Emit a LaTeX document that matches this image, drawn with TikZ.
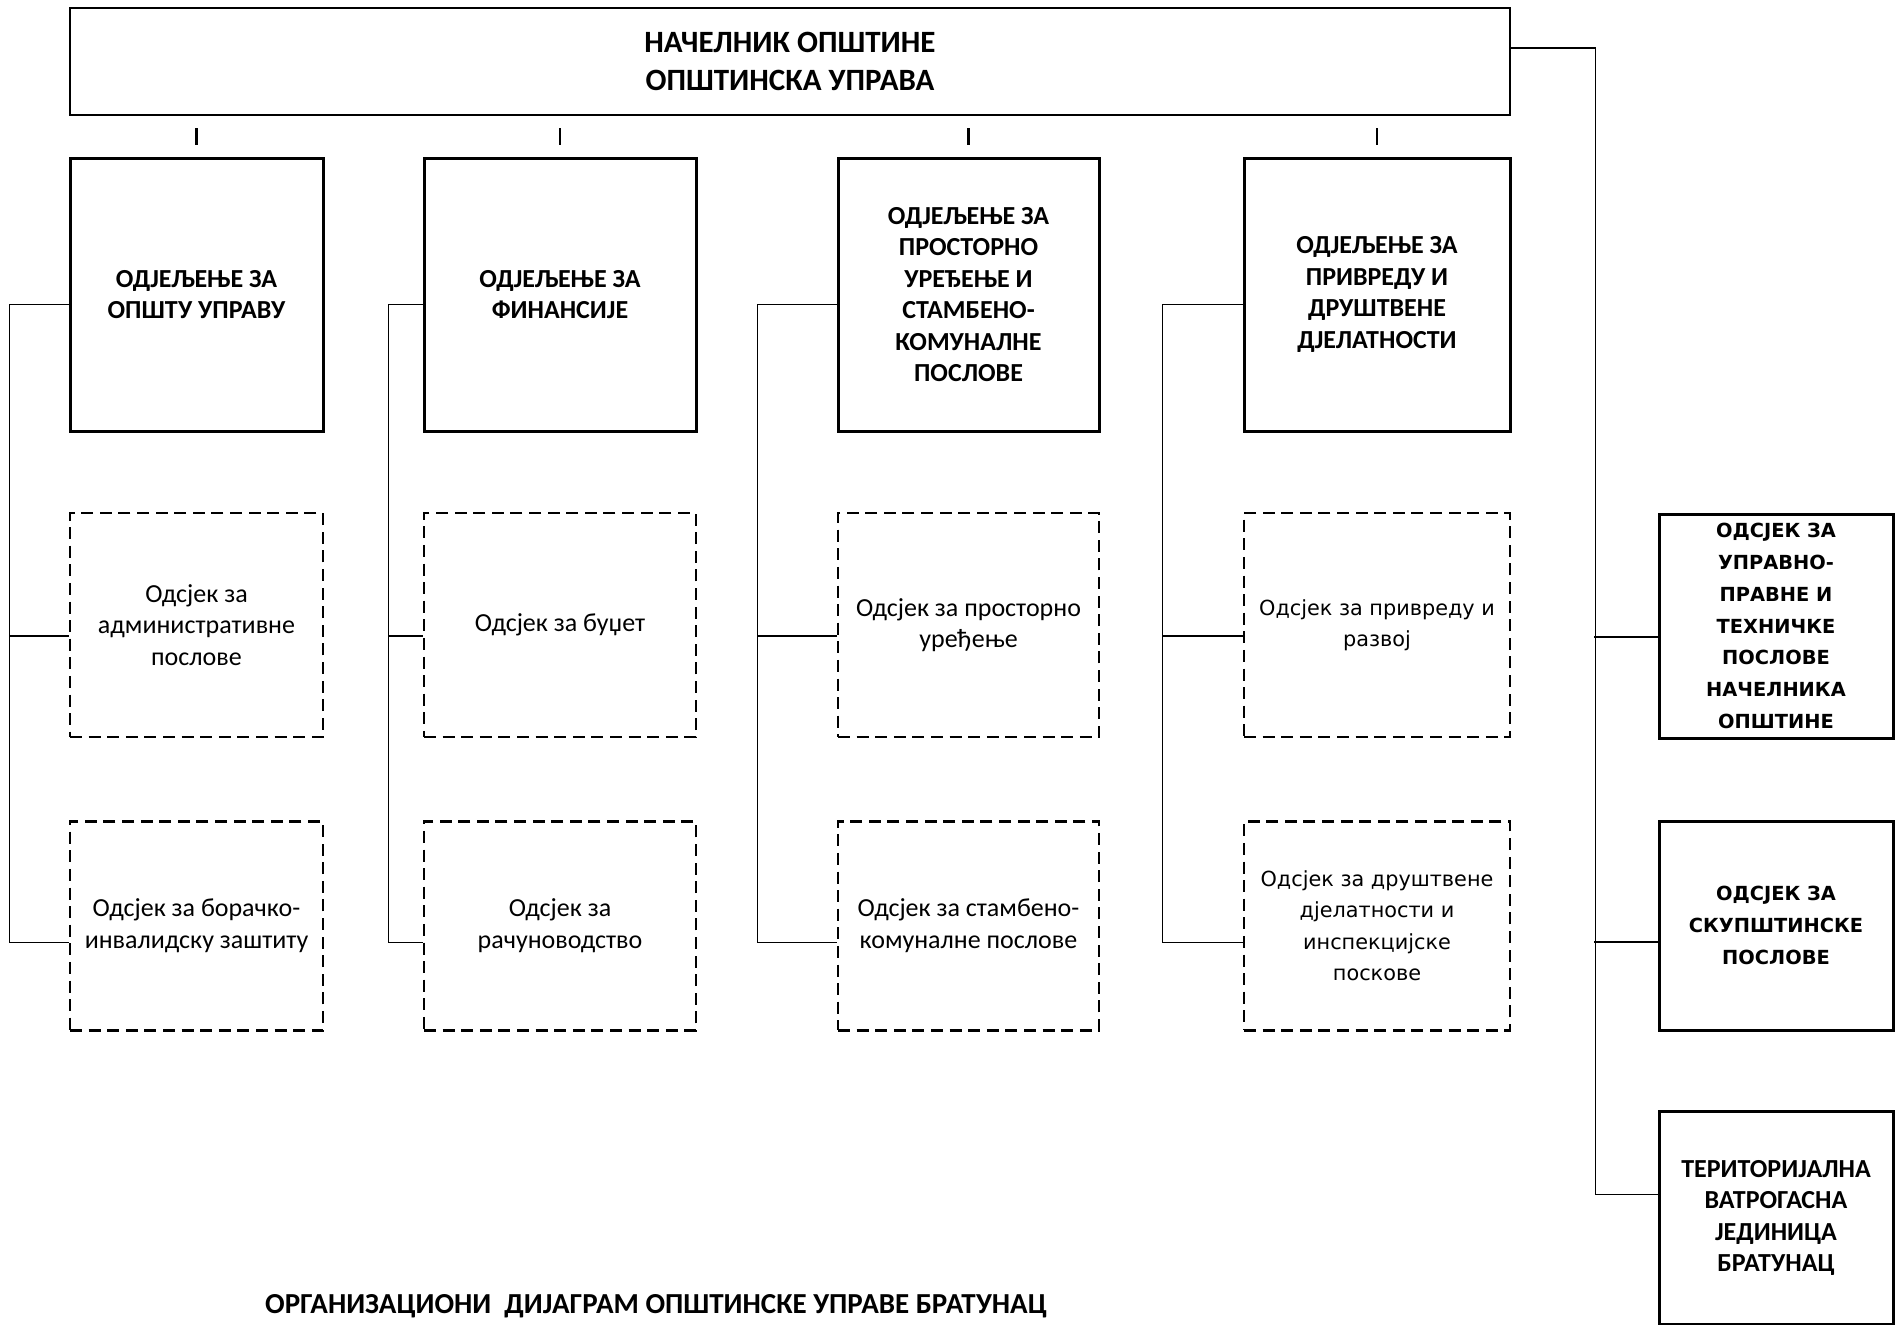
\documentclass[tikz,border=0pt]{standalone}
\usepackage{fontspec}
\setmainfont{Carlito}
\newfontfamily\dejavu{DejaVu Sans}
\usetikzlibrary{positioning}

\begin{document}
\begin{tikzpicture}[x=0.5pt, y=-0.5pt, node distance=39.7pt,
  every node/.style={font=\fontsize{13}{15.7}\selectfont, align=center, inner sep=1pt},
  head/.style={draw, line width=0.7pt, minimum width=720pt, minimum height=53.5pt, font=\fontsize{15.5}{18.7}\selectfont\bfseries},
  dept/.style={draw, line width=1.5pt, minimum height=136.5pt, font=\fontsize{13}{15.7}\selectfont\bfseries},
  sect/.style={draw, line width=1.2pt, dash pattern=on 6pt off 3.3pt, minimum height=112pt},
  side/.style={draw, line width=1.5pt, minimum width=117pt, minimum height=104.5pt, font=\dejavu\fontsize{9.7}{15.9}\selectfont\bfseries},
  link/.style={line width=0.75pt}]
  \useasboundingbox (0,0) rectangle (1895,1324);

  \node[head] (top) at (790,61.5) {НАЧЕЛНИК ОПШТИНЕ\\ОПШТИНСКА УПРАВА};

  % odjeljenja
  \node[dept, minimum width=126.5pt] (d1) at (196.5,294.5) {ОДЈЕЉЕЊЕ ЗА\\ОПШТУ УПРАВУ};
  \node[dept, minimum width=136pt] (d2) at (560,294.5) {ОДЈЕЉЕЊЕ ЗА\\ФИНАНСИЈЕ};
  \node[dept, minimum width=130.5pt] (d3) at (968.5,294.5) {ОДЈЕЉЕЊЕ ЗА\\ПРОСТОРНО\\УРЕЂЕЊЕ И\\СТАМБЕНО-\\КОМУНАЛНЕ\\ПОСЛОВЕ};
  \node[dept, minimum width=133pt] (d4) at (1377,294.5) {ОДЈЕЉЕЊЕ ЗА\\ПРИВРЕДУ И\\ДРУШТВЕНЕ\\ДЈЕЛАТНОСТИ};

  % odsjeci
  \node[sect, minimum width=126.5pt, below=of d1] (s11) {Одсјек за\\административне\\послове};
  \node[sect, minimum width=126.5pt, minimum height=104.5pt, below=40.9pt of s11] (s12) {Одсјек за борачко-\\инвалидску заштиту};
  \node[sect, minimum width=136pt, below=of d2] (s21) {Одсјек за буџет};
  \node[sect, minimum width=136pt, minimum height=104.5pt, below=40.9pt of s21] (s22) {Одсјек за\\рачуноводство};
  \node[sect, minimum width=130.5pt, below=of d3] (s31) {Одсјек за просторно\\уређење};
  \node[sect, minimum width=130.5pt, minimum height=104.5pt, below=40.9pt of s31] (s32) {Одсјек за стамбено-\\комуналне послове};
  \node[sect, minimum width=133pt, below=of d4, font=\dejavu\fontsize{10.4}{15.7}\selectfont] (s41) {Одсјек за привреду и\\развој};
  \node[sect, minimum width=133pt, minimum height=104.5pt, below=40.9pt of s41, font=\dejavu\fontsize{10.4}{15.7}\selectfont] (s42) {Одсјек за друштвене\\дјелатности и\\инспекцијске\\поскове};

  % desna kolona
  \node[side, minimum height=112pt] (ta) at (1776,626) {ОДСЈЕК ЗА\\УПРАВНО-\\ПРАВНЕ И\\ТЕХНИЧКЕ\\ПОСЛОВЕ\\НАЧЕЛНИКА\\ОПШТИНЕ};
  \node[side, below=40pt of ta] (tb) {ОДСЈЕК ЗА\\СКУПШТИНСКЕ\\ПОСЛОВЕ};
  \node[side, below=39.3pt of tb, minimum height=106.5pt, font=\fontsize{13}{15.7}\selectfont\bfseries] (tc) {ТЕРИТОРИЈАЛНА\\ВАТРОГАСНА\\ЈЕДИНИЦА\\БРАТУНАЦ};

  \node[font=\fontsize{14.5}{17}\selectfont\bfseries] (title) at (656,1306) {ОРГАНИЗАЦИОНИ\ \ ДИЈАГРАМ ОПШТИНСКЕ УПРАВЕ БРАТУНАЦ};

  \foreach \c/\off in {1/59, 2/34, 3/79, 4/80} {
    \draw[link] ([yshift=-5pt]d\c.west) -- ++(-\off,0) |- ([yshift=-8.25pt]s\c2.west);
    \draw[link] ([yshift=-5.5pt]s\c1.west) -- ++(-\off,0);
    \draw[link, line width=1.1pt] ([yshift=6pt]d\c.north) -- ++(0,-17);
  }
  \draw[link] ([yshift=6.75pt]top.east) -- ++(85,0) |- ([yshift=11.75pt]tc.west);
  \draw[link] ([yshift=-5.5pt]ta.west) -- ++(-64,0);
  \draw[link] ([yshift=-8.25pt]tb.west) -- ++(-64,0);
\end{tikzpicture}
\end{document}
